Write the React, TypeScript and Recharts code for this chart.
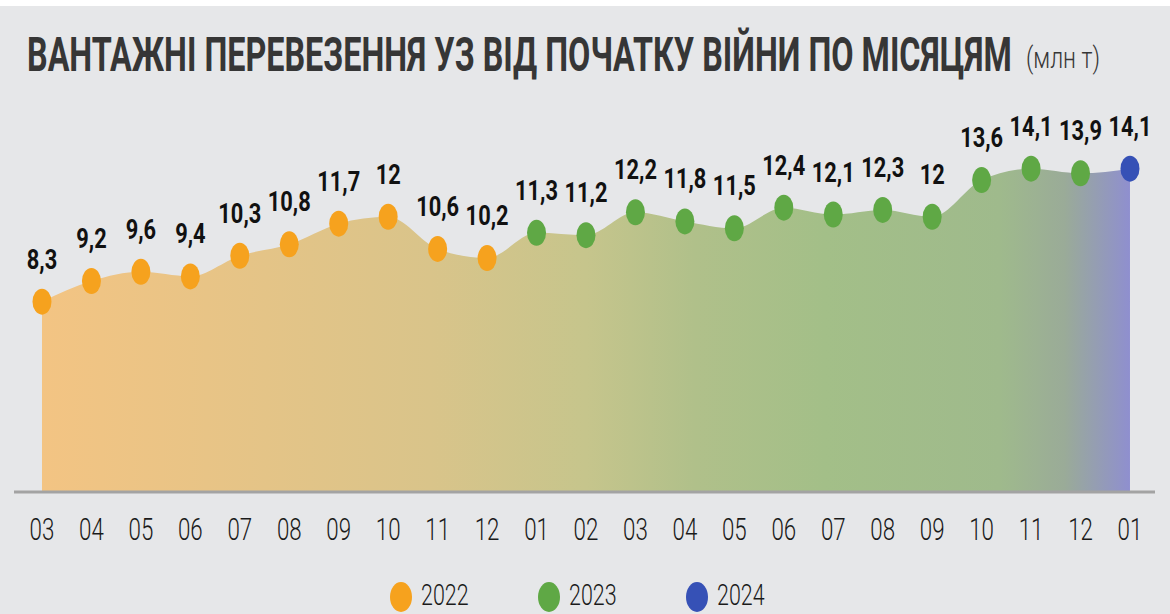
import React, { useLayoutEffect, useRef, useState } from "react";
import { AreaChart, Area, XAxis, YAxis, LabelList } from "recharts";

const months = ["03","04","05","06","07","08","09","10","11","12","01","02","03","04","05","06","07","08","09","10","11","12","01"];
const values = [8.3,9.2,9.6,9.4,10.3,10.8,11.7,12,10.6,10.2,11.3,11.2,12.2,11.8,11.5,12.4,12.1,12.3,12,13.6,14.1,13.9,14.1];
const years = ["2022","2022","2022","2022","2022","2022","2022","2022","2022","2022","2023","2023","2023","2023","2023","2023","2023","2023","2023","2023","2023","2023","2024"];
const legendYears = ["2022","2023","2024"];
const yearColors: Record<string, string> = { "2022": "#f6a21e", "2023": "#5fa845", "2024": "#3651b6" };
const titleMain = "ВАНТАЖНІ ПЕРЕВЕЗЕННЯ УЗ ВІД ПОЧАТКУ ВІЙНИ ПО МІСЯЦЯМ";
const titleUnit = "(млн т)";

const data = months.map((m, i) => ({ idx: i, month: m, value: values[i], year: years[i] }));

const fmt = (v: number) => String(v).replace(".", ",");

const renderDot = (props: any) => {
  const { cx, cy, payload, index } = props;
  if (cx == null || cy == null) return <g key={index} />;
  return <ellipse key={"d" + index} cx={cx} cy={cy} rx={9.5} ry={13} fill={yearColors[payload.year]} />;
};

const renderLabel = (props: any) => {
  const { x, y, value, index } = props;
  return (
    <g key={"l" + index} transform={`translate(${x},${y - 33}) scale(0.78,1)`}>
      <text x={0} y={0} textAnchor="middle" fontFamily="Roboto" fontWeight={700} fontSize={28} fill="#111">
        {fmt(value)}
      </text>
    </g>
  );
};

const renderTick = (props: any) => {
  const { x, y, payload } = props;
  return (
    <g transform={`translate(${x},${y + 48}) scale(0.72,1)`}>
      <text x={0} y={0} textAnchor="middle" fontFamily="Roboto" fontWeight={300} fontSize={31} fill="#1a1a1a">
        {months[payload.value]}
      </text>
    </g>
  );
};

const legendX = [401, 549, 697];

export default function App() {
  const mainRef = useRef<SVGTextElement>(null);
  const unitRef = useRef<SVGTextElement>(null);
  const [sMain, setSMain] = useState(0.7);
  const [sUnit, setSUnit] = useState(0.8);
  useLayoutEffect(() => {
    if (mainRef.current) {
      const w = mainRef.current.getComputedTextLength();
      if (w > 0) setSMain(985 / w);
    }
    if (unitRef.current) {
      const w = unitRef.current.getComputedTextLength();
      if (w > 0) setSUnit(74 / w);
    }
  }, []);
  return (
    <div style={{ position: "relative", width: 1170, height: 614, background: "#ffffff", overflow: "hidden" }}>
      <style>{`body{margin:0}`}</style>
      <div style={{ position: "absolute", top: 6, left: 0, width: 1170, height: 608, background: "#e6e7e9" }} />
      <div style={{ position: "absolute", top: 0, left: 0 }}>
        <AreaChart width={1170} height={614} data={data} margin={{ top: 148, right: 15, bottom: 82, left: 14 }}>
          <defs>
            <linearGradient id="areaGrad" x1="0" y1="0" x2="1" y2="0">
              <stop offset="0" stopColor="#f3c483" />
              <stop offset="0.357" stopColor="#d9c48a" />
              <stop offset="0.5" stopColor="#c6c58c" />
              <stop offset="0.6" stopColor="#b0c08a" />
              <stop offset="0.72" stopColor="#a3bf88" />
              <stop offset="0.88" stopColor="#9fba8c" />
              <stop offset="0.94" stopColor="#9aab98" />
              <stop offset="1" stopColor="#8f8fcf" />
            </linearGradient>
          </defs>
          <XAxis
            type="number"
            dataKey="idx"
            domain={[-0.566, 22.506]}
            ticks={data.map((d) => d.idx)}
            interval={0}
            allowDataOverflow
            axisLine={{ stroke: "#a3a3a3", strokeWidth: 3 }}
            tickLine={false}
            tickSize={0}
            tickMargin={0}
            height={40}
            tick={renderTick}
          />
          <YAxis hide type="number" domain={[0, 15]} />
          <Area
            type="monotone"
            dataKey="value"
            stroke="none"
            fill="url(#areaGrad)"
            fillOpacity={1}
            baseValue={0}
            dot={renderDot}
            activeDot={false}
            isAnimationActive={false}
          >
            <LabelList dataKey="value" content={renderLabel} />
          </Area>
        </AreaChart>
      </div>
      <svg width={1170} height={614} style={{ position: "absolute", top: 0, left: 0, pointerEvents: "none" }}>
        <g transform={`translate(27,71) scale(${sMain},1)`}>
          <text ref={mainRef} x={0} y={0} fontFamily="Roboto" fontWeight={700} fontSize={48} fill="#363636">
            {titleMain}
          </text>
        </g>
        <g transform={`translate(1026,68) scale(${sUnit},1)`}>
          <text ref={unitRef} x={0} y={0} fontFamily="Roboto" fontWeight={300} fontSize={30} fill="#363636">
            {titleUnit}
          </text>
        </g>
        {legendYears.map((yr, i) => (
          <g key={yr}>
            <ellipse cx={legendX[i]} cy={597} rx={11} ry={15} fill={yearColors[yr]} />
            <g transform={`translate(${legendX[i] + 20},${605}) scale(0.74,1)`}>
              <text x={0} y={0} fontFamily="Roboto" fontWeight={300} fontSize={29} fill="#1a1a1a">
                {yr}
              </text>
            </g>
          </g>
        ))}
      </svg>
    </div>
  );
}
